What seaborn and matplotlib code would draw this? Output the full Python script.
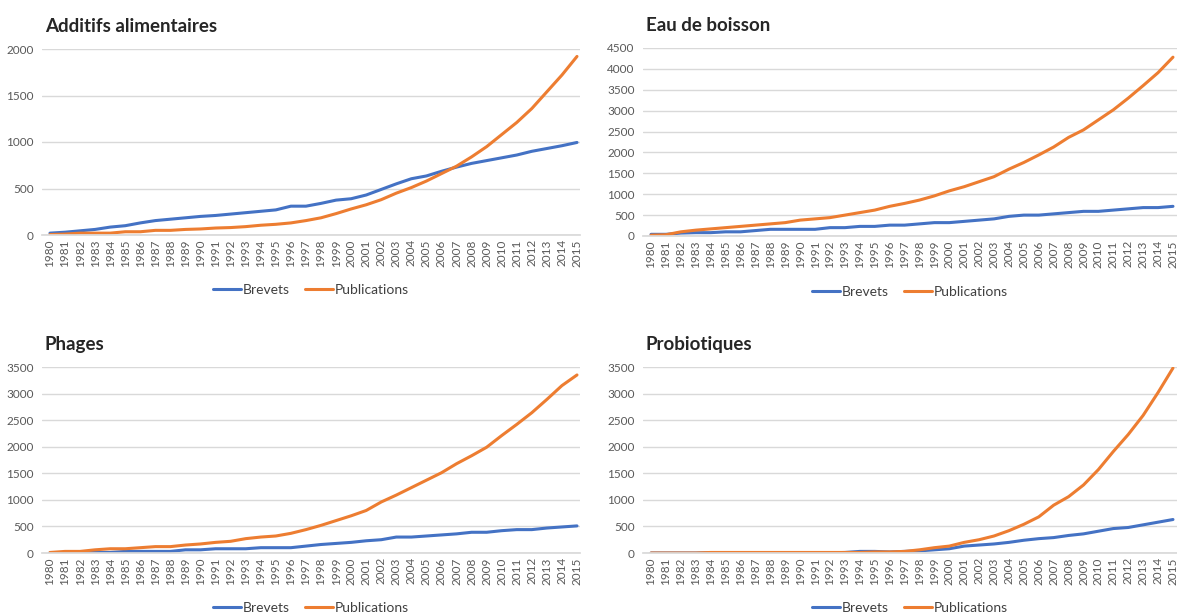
import pandas as pd
import seaborn as sns
import matplotlib.pyplot as plt

years = list(range(1980, 2016))

additifs_brevets = [20, 30, 45, 60, 85, 100, 130, 155, 170, 185, 200, 210, 225, 240, 255, 270,
                    310, 310, 340, 375, 390, 430, 490, 550, 605, 635, 685, 730, 770, 800, 830,
                    860, 900, 930, 960, 995]
additifs_publications = [5, 10, 20, 20, 20, 35, 35, 50, 50, 60, 65, 75, 80, 90, 105, 115,
                         130, 155, 185, 230, 280, 325, 380, 450, 510, 580, 660, 740, 840, 950,
                         1080, 1210, 1360, 1540, 1720, 1920]

eau_brevets = [40, 40, 70, 80, 80, 100, 100, 130, 160, 160, 160, 160, 200, 200, 230, 230,
               260, 260, 290, 320, 320, 350, 380, 410, 470, 500, 500, 530, 560, 590, 590,
               620, 650, 680, 680, 710]
eau_publications = [20, 30, 100, 140, 170, 200, 230, 260, 290, 320, 380, 410, 440, 500, 560,
                    620, 710, 780, 860, 960, 1080, 1180, 1300, 1420, 1600, 1760, 1940, 2130,
                    2360, 2540, 2780, 3020, 3300, 3600, 3910, 4280]

phages_brevets = [5, 5, 5, 10, 10, 30, 30, 30, 30, 60, 60, 80, 80, 80, 100, 100, 100, 130,
                  160, 180, 200, 230, 250, 300, 300, 320, 340, 360, 390, 390, 420, 440, 440,
                  470, 490, 510]
phages_publications = [10, 30, 30, 60, 80, 80, 100, 120, 120, 150, 170, 200, 220, 270, 300,
                       320, 370, 440, 520, 610, 700, 800, 960, 1090, 1230, 1370, 1510, 1680,
                       1830, 1990, 2210, 2420, 2640, 2890, 3150, 3350]

probio_brevets = [0, 0, 0, 0, 5, 5, 5, 5, 5, 5, 5, 5, 5, 10, 30, 30, 20, 30, 40, 60, 80,
                  130, 150, 170, 200, 240, 270, 290, 330, 360, 410, 460, 480, 530, 580, 630]
probio_publications = [0, 0, 0, 0, 10, 10, 10, 10, 10, 10, 10, 10, 10, 10, 10, 20, 20, 30,
                       60, 100, 130, 200, 250, 320, 420, 540, 680, 900, 1060, 1280, 1570, 1910,
                       2230, 2590, 3020, 3480]

panels = [
    ("Additifs alimentaires", additifs_brevets, additifs_publications, 2000, 500),
    ("Eau de boisson", eau_brevets, eau_publications, 4500, 500),
    ("Phages", phages_brevets, phages_publications, 3500, 500),
    ("Probiotiques", probio_brevets, probio_publications, 3500, 500),
]

sns.set_theme(style="white")
plt.rcParams['font.family'] = ['Lato', 'DejaVu Sans']

W, H = 1177, 615
fig = plt.figure(figsize=(W / 100, H / 100), dpi=100)

# axes boxes in pixels: left, top, right, bottom
boxes = [(42, 49, 580, 235), (643, 48, 1177, 236), (42, 367, 580, 553), (643, 367, 1177, 553)]
xlims = [(1979.47, 2015.2), (1979.46, 2015.27), (1979.47, 2015.2), (1979.46, 2015.27)]

palette = {"Brevets": "#4472C4", "Publications": "#ED7D31"}

for (title, brev, pub, ymax, step), (l, t, r, b), xl in zip(panels, boxes, xlims):
    ax = fig.add_axes([l / W, 1 - b / H, (r - l) / W, (b - t) / H])
    df = pd.DataFrame({
        "Année": years * 2,
        "Valeur": brev + pub,
        "Série": ["Brevets"] * len(years) + ["Publications"] * len(years),
    })
    sns.lineplot(data=df, x="Année", y="Valeur", hue="Série", palette=palette,
                 linewidth=2.2, ax=ax)
    ax.set_ylim(0, ymax)
    ax.set_xlim(*xl)
    ax.set_yticks(range(0, ymax + 1, step))
    ax.set_xticks(years)
    ax.set_xticklabels([str(y) for y in years], rotation=90, fontsize=8.5, color="#595959")
    ax.tick_params(axis="y", labelsize=8.5, labelcolor="#595959", length=0, pad=6)
    ax.tick_params(axis="x", length=0, pad=3)
    ax.yaxis.grid(True, color="#d9d9d9", linewidth=1)
    ax.set_axisbelow(True)
    for s in ["top", "right", "left"]:
        ax.spines[s].set_visible(False)
    ax.spines["bottom"].set_color("#d9d9d9")
    ax.set_xlabel("")
    ax.set_ylabel("")
    ax.set_title(title, loc="left", fontsize=13.5, fontweight="bold", pad=12, x=0.005)
    ax.legend(loc="center", bbox_to_anchor=(0.5, -0.296), ncol=2, frameon=False,
              fontsize=10, handlelength=2.0, columnspacing=1.1, labelcolor="#404040",
              handletextpad=0.15)

fig.savefig("out.png", dpi=100)
